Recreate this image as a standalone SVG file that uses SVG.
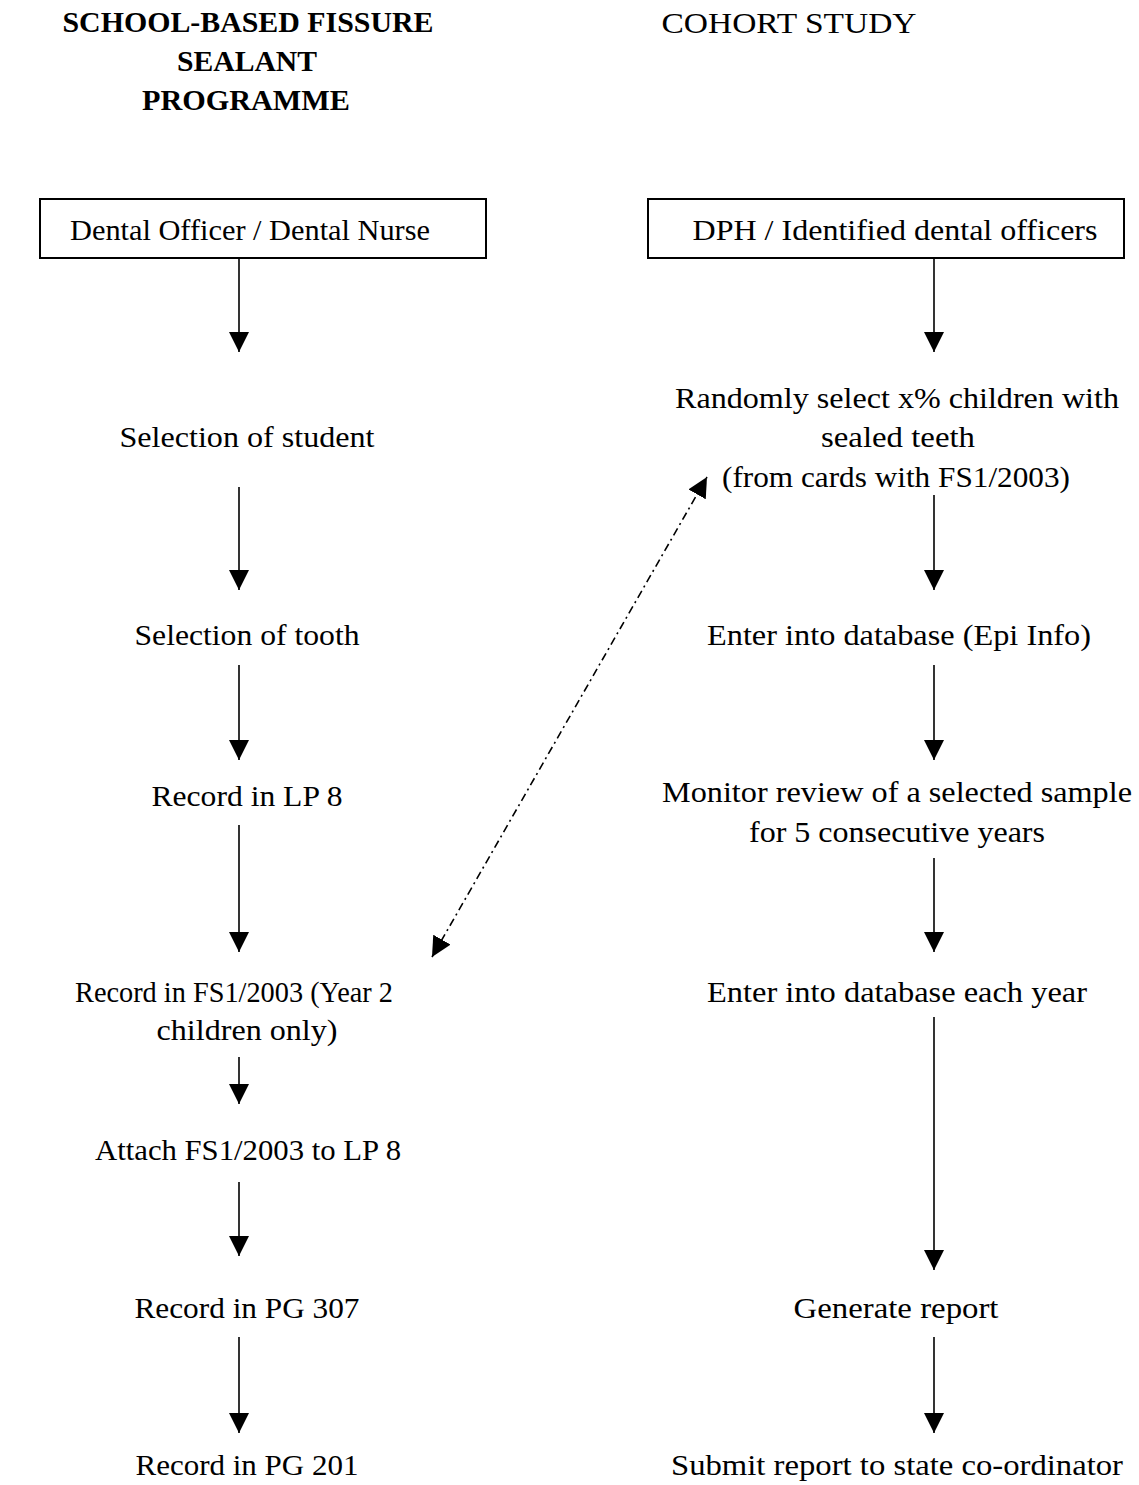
<svg xmlns="http://www.w3.org/2000/svg" width="1139" height="1485" viewBox="0 0 1139 1485">
<style>
text{font-family:"Liberation Serif","Times New Roman",serif;font-size:30px;fill:#000;text-anchor:middle}
.b{font-weight:bold}
.box{fill:#fff;stroke:#000;stroke-width:2}
.c{stroke:#000;stroke-width:1.6;fill:none}
.d{stroke:#000;stroke-width:1.6;fill:none;stroke-dasharray:8 4 2 4}
</style>
<defs>
<marker id="ah" markerUnits="userSpaceOnUse" markerWidth="20" markerHeight="20" refX="20" refY="10" orient="auto-start-reverse">
<path d="M0,0 L20,10 L0,20 z" fill="#000"/>
</marker>
</defs>
<rect width="1139" height="1485" fill="#fff"/>
<g id="title-left">
<text class="b" x="248" y="32" textLength="371" lengthAdjust="spacingAndGlyphs">SCHOOL-BASED FISSURE</text>
<text class="b" x="247" y="71" textLength="140" lengthAdjust="spacingAndGlyphs">SEALANT</text>
<text class="b" x="246" y="110" textLength="208" lengthAdjust="spacingAndGlyphs">PROGRAMME</text>
</g>
<g id="title-right">
<text x="789" y="33" textLength="255" lengthAdjust="spacingAndGlyphs">COHORT STUDY</text>
</g>
<g id="n-dental-officer">
<rect class="box" x="40" y="199" width="446" height="59"/>
<text x="250" y="240" textLength="360" lengthAdjust="spacingAndGlyphs">Dental Officer / Dental Nurse</text>
</g>
<g id="n-dph">
<rect class="box" x="648" y="199" width="476" height="59"/>
<text x="895" y="240" textLength="405" lengthAdjust="spacingAndGlyphs">DPH / Identified dental officers</text>
</g>
<g id="n-sel-student"><text x="247" y="447" textLength="255" lengthAdjust="spacingAndGlyphs">Selection of student</text></g>
<g id="n-sel-tooth"><text x="247" y="645" textLength="225" lengthAdjust="spacingAndGlyphs">Selection of tooth</text></g>
<g id="n-lp8"><text x="247" y="806" textLength="191" lengthAdjust="spacingAndGlyphs">Record in LP 8</text></g>
<g id="n-fs1">
<text x="234" y="1002" textLength="318" lengthAdjust="spacingAndGlyphs">Record in FS1/2003 (Year 2</text>
<text x="247" y="1040" textLength="181" lengthAdjust="spacingAndGlyphs">children only)</text>
</g>
<g id="n-attach"><text x="248" y="1160" textLength="306" lengthAdjust="spacingAndGlyphs">Attach FS1/2003 to LP 8</text></g>
<g id="n-pg307"><text x="247" y="1318" textLength="225" lengthAdjust="spacingAndGlyphs">Record in PG 307</text></g>
<g id="n-pg201"><text x="247" y="1475" textLength="223" lengthAdjust="spacingAndGlyphs">Record in PG 201</text></g>
<g id="n-random">
<text x="897" y="408" textLength="444" lengthAdjust="spacingAndGlyphs">Randomly select x% children with</text>
<text x="898" y="447" textLength="154" lengthAdjust="spacingAndGlyphs">sealed teeth</text>
<text x="896" y="487" textLength="348" lengthAdjust="spacingAndGlyphs">(from cards with FS1/2003)</text>
</g>
<g id="n-epi"><text x="899" y="645" textLength="384" lengthAdjust="spacingAndGlyphs">Enter into database (Epi Info)</text></g>
<g id="n-monitor">
<text x="897" y="802" textLength="470" lengthAdjust="spacingAndGlyphs">Monitor review of a selected sample</text>
<text x="897" y="842" textLength="296" lengthAdjust="spacingAndGlyphs">for 5 consecutive years</text>
</g>
<g id="n-each-year"><text x="897" y="1002" textLength="380" lengthAdjust="spacingAndGlyphs">Enter into database each year</text></g>
<g id="n-generate"><text x="896" y="1318" textLength="205" lengthAdjust="spacingAndGlyphs">Generate report</text></g>
<g id="n-submit"><text x="897" y="1475" textLength="452" lengthAdjust="spacingAndGlyphs">Submit report to state co-ordinator</text></g>
<g id="connectors">
<line class="c" x1="239" y1="258" x2="239" y2="352" marker-end="url(#ah)"/>
<line class="c" x1="239" y1="487" x2="239" y2="590" marker-end="url(#ah)"/>
<line class="c" x1="239" y1="665" x2="239" y2="760" marker-end="url(#ah)"/>
<line class="c" x1="239" y1="825" x2="239" y2="952" marker-end="url(#ah)"/>
<line class="c" x1="239" y1="1057" x2="239" y2="1104" marker-end="url(#ah)"/>
<line class="c" x1="239" y1="1182" x2="239" y2="1256" marker-end="url(#ah)"/>
<line class="c" x1="239" y1="1337" x2="239" y2="1433" marker-end="url(#ah)"/>
<line class="c" x1="934" y1="258" x2="934" y2="352" marker-end="url(#ah)"/>
<line class="c" x1="934" y1="495" x2="934" y2="590" marker-end="url(#ah)"/>
<line class="c" x1="934" y1="665" x2="934" y2="760" marker-end="url(#ah)"/>
<line class="c" x1="934" y1="858" x2="934" y2="952" marker-end="url(#ah)"/>
<line class="c" x1="934" y1="1017" x2="934" y2="1270" marker-end="url(#ah)"/>
<line class="c" x1="934" y1="1337" x2="934" y2="1433" marker-end="url(#ah)"/>
<line class="d" x1="432" y1="957" x2="707" y2="477" marker-start="url(#ah)" marker-end="url(#ah)"/>
</g>
</svg>
